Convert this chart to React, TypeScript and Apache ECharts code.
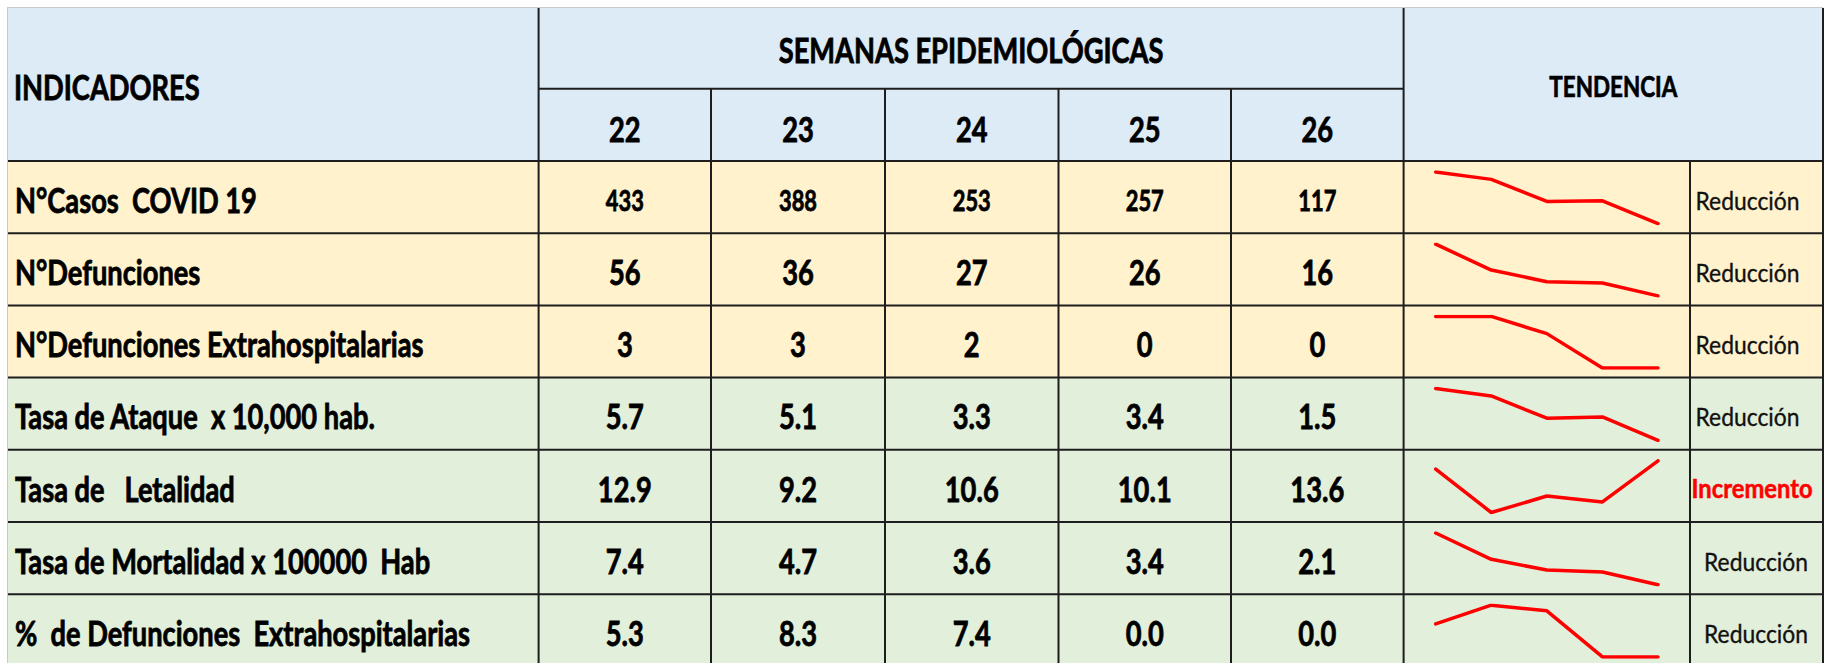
import React, { useEffect, useRef } from "react";
import * as echarts from "echarts";

const NB = "\u00a0";
const weeks = ["22", "23", "24", "25", "26"];
const indicators = [
  `N°Casos ${NB}COVID 19`,
  "N°Defunciones",
  "N°Defunciones Extrahospitalarias",
  `Tasa de Ataque ${NB}x 10,000 hab.`,
  `Tasa de ${NB}${NB}Letalidad`,
  `Tasa de Mortalidad x 100000 ${NB}Hab`,
  `% ${NB}de Defunciones ${NB}Extrahospitalarias`,
];
const casos = [433, 388, 253, 257, 117];
const defunciones = [56, 36, 27, 26, 16];
const defExtra = [3, 3, 2, 0, 0];
const tasaAtaque = [5.7, 5.1, 3.3, 3.4, 1.5];
const letalidad = [12.9, 9.2, 10.6, 10.1, 13.6];
const mortalidad = [7.4, 4.7, 3.6, 3.4, 2.1];
const pctExtra = [5.3, 8.3, 7.4, 0.0, 0.0];
const decimals = [0, 0, 0, 1, 1, 1, 1];
const trends = ["Reducción", "Reducción", "Reducción", "Reducción", "Incremento", "Reducción", "Reducción"];
const rows = [casos, defunciones, defExtra, tasaAtaque, letalidad, mortalidad, pctExtra];

// layout
const COLX = [8, 538.6, 711, 885, 1058.5, 1231, 1403.6, 1690, 1823];
const ROWY = [8, 161, 233.2, 305.4, 377.6, 449.8, 522, 594.2, 666.4];
const SUBY = 88.7;
const FAMILY = "Lato";
const CAP = 0.7165;

const canvas = typeof document !== "undefined" ? document.createElement("canvas") : null;
function measure(text: string, weight: string, size: number) {
  const ctx = canvas!.getContext("2d")!;
  ctx.font = `${weight} ${size}px ${FAMILY}`;
  return ctx.measureText(text).width;
}

type Cat = { weight: string; size: number; sx: number; sw: number };
function makeCat(weight: string, cap: number, ref: string, refW: number, sw: number): Cat {
  const size = cap / CAP;
  const sx = refW / measure(ref, weight, size);
  return { weight, size, sx, sw };
}

function buildOption() {
  const A = makeCat("bold", 24.5, indicators[0], 242, 0.8);
  const B = makeCat("bold", 21, "257", 38, 0.8);
  const C = makeCat("bold", 20, "TENDENCIA", 128, 0.7);
  const D = makeCat("normal", 18.5, "Reducción", 104, 0.35);
  const E = makeCat("bold", 18.5, "Incremento", 121, 0.5);

  const txt = (x: number, y: number, text: string, cat: Cat, align: string, fill = "#000000") => ({
    type: "text",
    x,
    y,
    scaleX: cat.sx,
    scaleY: 1,
    z: 10,
    style: {
      text,
      fontSize: cat.size,
      fontWeight: cat.weight,
      fontFamily: FAMILY,
      fill,
      stroke: fill,
      lineWidth: cat.sw,
      align,
      textAlign: align,
      verticalAlign: "middle",
      textVerticalAlign: "middle",
    },
  });
  const line = (x1: number, y1: number, x2: number, y2: number, color = "#1e1e1e", w = 2) => ({
    type: "line",
    z: 10,
    shape: { x1, y1, x2, y2 },
    style: { stroke: color, lineWidth: w },
  });
  const rect = (x: number, y: number, w: number, h: number, fill: string) => ({
    type: "rect",
    z: 0,
    shape: { x, y, width: w, height: h },
    style: { fill },
  });

  const L = COLX[0];
  const R = COLX[8];
  const g: any[] = [];
  // backgrounds
  g.push(rect(L, ROWY[0], R - L, ROWY[1] - ROWY[0], "#DDEBF7"));
  for (let i = 0; i < 7; i++) {
    g.push(rect(L, ROWY[i + 1], R - L, ROWY[i + 2] - ROWY[i + 1], i < 3 ? "#FFF2CC" : "#E2EFDA"));
  }
  // outer light border
  g.push(line(7, 7.5, R, 7.5, "#c9c9c9", 1));
  g.push(line(7.5, 7, 7.5, 663, "#c9c9c9", 1));
  // grid lines
  for (let i = 1; i <= 7; i++) g.push(line(L, ROWY[i], R, ROWY[i]));
  g.push(line(COLX[1], SUBY, COLX[6], SUBY));
  g.push(line(COLX[1], ROWY[0], COLX[1], 663));
  g.push(line(COLX[6], ROWY[0], COLX[6], 663));
  g.push(line(R, ROWY[0], R, 663));
  for (let c = 2; c <= 5; c++) g.push(line(COLX[c], SUBY, COLX[c], 663));
  g.push(line(COLX[7], ROWY[1], COLX[7], 663));

  // header texts
  g.push(txt(14, 86.5, "INDICADORES", A, "left"));
  g.push(txt((COLX[1] + COLX[6]) / 2, 50, "SEMANAS EPIDEMIOLÓGICAS", A, "center"));
  weeks.forEach((w, k) => g.push(txt((COLX[k + 1] + COLX[k + 2]) / 2, 129, w, A, "center")));
  g.push(txt((COLX[6] + R) / 2, 86, "TENDENCIA", C, "center"));

  // body
  for (let i = 0; i < 7; i++) {
    const yc = (ROWY[i + 1] + ROWY[i + 2]) / 2 + 2.5;
    g.push(txt(15, yc, indicators[i], A, "left"));
    rows[i].forEach((v, k) => {
      const s = decimals[i] ? v.toFixed(1) : String(v);
      g.push(txt((COLX[k + 1] + COLX[k + 2]) / 2, yc, s, i === 0 ? B : A, "center"));
    });
    const t = trends[i];
    if (t === "Incremento") g.push(txt(1691.5, yc - 0.5, t, E, "left", "#ff0000"));
    else if (i >= 5) g.push(txt(1756, yc, t, D, "center", "#111111"));
    else g.push(txt(1695.5, yc, t, D, "left", "#111111"));
  }

  const grids: any[] = [];
  const xAxes: any[] = [];
  const yAxes: any[] = [];
  const series: any[] = [];
  rows.forEach((data, i) => {
    const top = ROWY[i + 1] + 11;
    const h = ROWY[i + 2] - ROWY[i + 1] - 20.5;
    grids.push({ left: 1435.7, top, width: 222.3, height: h, containLabel: false });
    xAxes.push({ type: "category", gridIndex: i, data: weeks, boundaryGap: false, show: false });
    yAxes.push({ type: "value", gridIndex: i, min: "dataMin", max: "dataMax", scale: true, show: false });
    series.push({
      type: "line",
      xAxisIndex: i,
      yAxisIndex: i,
      data,
      symbol: "none",
      silent: true,
      z: 5,
      lineStyle: { color: "#ff0000", width: 3.5, join: "round", cap: "round" },
    });
  });

  return {
    animation: false,
    backgroundColor: "#ffffff",
    grid: grids,
    xAxis: xAxes,
    yAxis: yAxes,
    series,
    graphic: { elements: g },
  };
}

export default function App() {
  const ref = useRef<HTMLDivElement>(null);
  useEffect(() => {
    document.body.style.margin = "0";
    const chart = echarts.init(ref.current!, null, { renderer: "svg" });
    chart.setOption(buildOption() as any);
    return () => chart.dispose();
  }, []);
  return (
    <div
      ref={ref}
      style={{ position: "fixed", left: 0, top: 0, width: 1828, height: 663, background: "#fff" }}
    />
  );
}
